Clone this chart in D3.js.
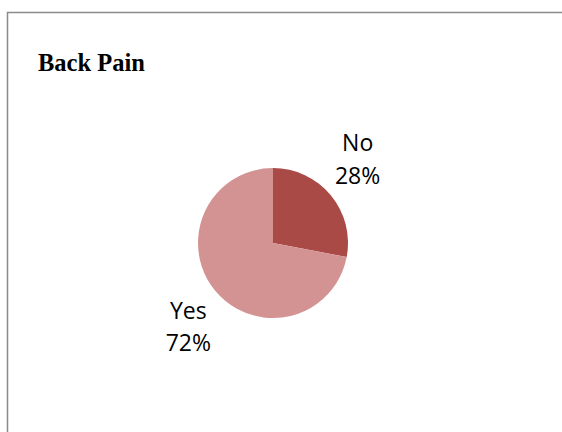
<!DOCTYPE html>
<html>
<head>
<meta charset="utf-8">
<script src="https://cdn.jsdelivr.net/npm/d3@7"></script>
<style>
    body { margin: 0; background: #fff; }
</style>
</head>
<body>
<div class="viz1"></div>
<script>
var categories = ["No", "Yes"];
var values = [28, 72];
var colors = ["#A94A47", "#D39392"];

var w = 562;
var h = 432;

var cx = 273, cy = 243, r = 75;

var svg = d3.select(".viz1")
    .append("svg")
    .attr("width", w)
    .attr("height", h);

// chart frame (runs off the right and bottom edge)
svg.append("rect")
    .attr("x", 7.5)
    .attr("y", 12.5)
    .attr("width", w + 20)
    .attr("height", h + 20)
    .attr("fill", "none")
    .attr("stroke", "#8a8a8a")
    .attr("stroke-width", 1.5);

svg.append("text")
    .attr("x", 38)
    .attr("y", 71)
    .attr("font-family", "Liberation Serif, Times New Roman, serif")
    .attr("font-weight", "bold")
    .attr("font-size", "24.5px")
    .attr("fill", "#000")
    .text("Back Pain");

var data = categories.map(function(c, i) {
    return { name: c, value: values[i], color: colors[i] };
});

var pie = d3.pie()
    .sort(null)
    .value(function(d) { return d.value; });

var arc = d3.arc()
    .innerRadius(0)
    .outerRadius(r);

var arcs = pie(data);

var g = svg.append("g")
    .attr("transform", "translate(" + cx + "," + cy + ")");

g.selectAll("path")
    .data(arcs)
    .enter()
    .append("path")
    .attr("d", arc)
    .attr("fill", function(d) { return d.data.color; });

// best-fit style labels: the box corner nearest the pie touches a point
// just outside the slice at its mid angle
var labelArc = d3.arc()
    .innerRadius(80)
    .outerRadius(80);
var hw = 23, hh = 33;

var total = d3.sum(values);

function labelCenter(d) {
    var p = labelArc.centroid(d);
    return [p[0] + (p[0] >= 0 ? hw : -hw), p[1] + (p[1] >= 0 ? hh : -hh)];
}

var labels = g.selectAll(".lbl")
    .data(arcs)
    .enter()
    .append("text")
    .attr("class", "lbl")
    .attr("text-anchor", "middle")
    .attr("font-family", "Open Sans, sans-serif")
    .attr("font-size", "23px")
    .attr("fill", "#000");

labels.append("tspan")
    .attr("x", function(d) { return labelCenter(d)[0]; })
    .attr("y", function(d) { return labelCenter(d)[1] - 8; })
    .text(function(d) { return d.data.name; });

labels.append("tspan")
    .attr("x", function(d) { return labelCenter(d)[0]; })
    .attr("y", function(d) { return labelCenter(d)[1] + 24.5; })
    .text(function(d) { return Math.round(d.data.value / total * 100) + "%"; });
</script>
</body>
</html>
